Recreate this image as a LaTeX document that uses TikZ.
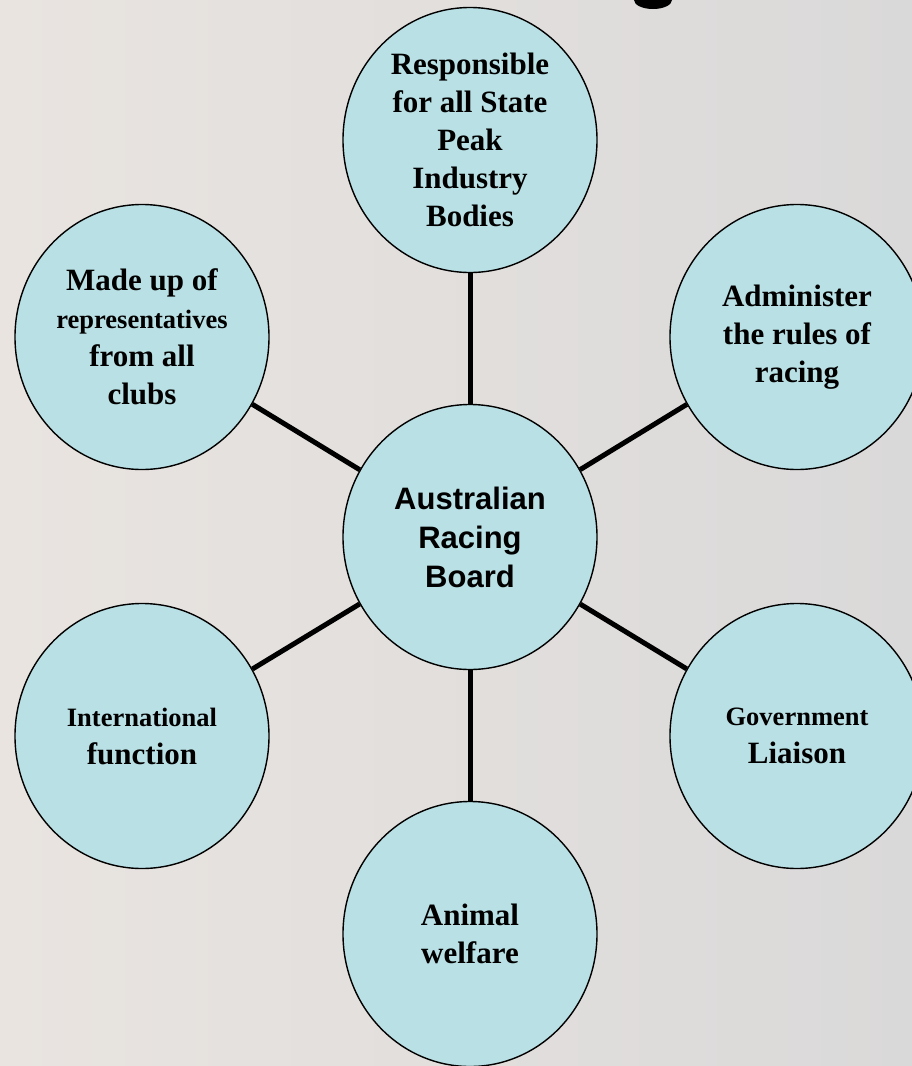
\documentclass[tikz,border=0pt]{standalone}
\usepackage{fontspec}
\setmainfont{Liberation Serif}
\newfontfamily\arialfont{Liberation Sans}
\usetikzlibrary{shapes.geometric}
\definecolor{bgleft}{RGB}{233,228,224}
\definecolor{bgright}{RGB}{218,217,217}
\definecolor{bubble}{RGB}{185,224,228}
\tikzset{
  bubblenode/.style={ellipse, draw=black, line width=1.4pt, fill=bubble,
    minimum width=254pt, minimum height=265pt, inner sep=0pt, align=center,
    font=\bfseries\fontsize{31}{38}\selectfont},
  hubnode/.style={bubblenode, font=\arialfont\bfseries\fontsize{31}{39}\selectfont},
  spoke/.style={line width=5pt, black}
}
\newcommand{\smallline}[1]{{\fontsize{26.5}{38}\selectfont #1}}
\begin{document}
\begin{tikzpicture}[x=1pt,y=-1pt]
\useasboundingbox (0,0) rectangle (912,1066);
\clip (0,0) rectangle (912,1066);
\shade[left color=bgleft, right color=bgright] (0,0) rectangle (912,1066);
\fill[black] (653,0) ellipse (19 and 9);

\node[hubnode] (c) at (470,537) {Australian\\Racing\\Board};
\node[bubblenode] (t) at (470,140) {Responsible\\for all State\\Peak\\Industry\\Bodies};
\node[bubblenode] (ul) at (142,337) {Made up of\\\smallline{representatives}\\from all\\clubs};
\node[bubblenode] (ur) at (797,337) {Administer\\the rules of\\racing};
\node[bubblenode] (ll) at (142,736) {\smallline{International}\\function};
\node[bubblenode] (lr) at (797,736) {\smallline{Government}\\Liaison};
\node[bubblenode] (b) at (470,934) {Animal\\welfare};

\foreach \n in {t,ul,ur,ll,lr,b}
  \draw[spoke] (c) -- (\n);
\end{tikzpicture}
\end{document}
